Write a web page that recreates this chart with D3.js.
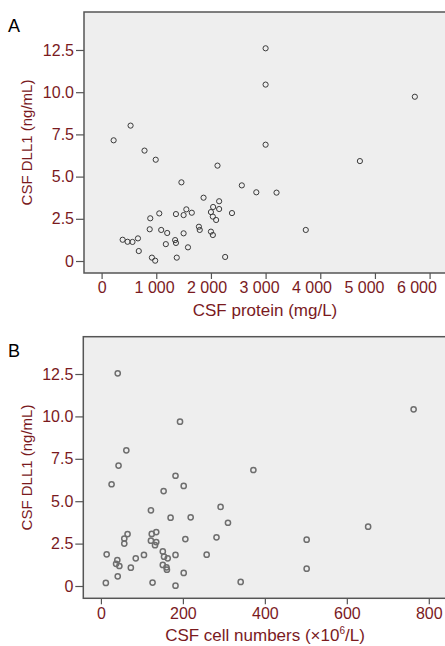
<!DOCTYPE html>
<html>
<head>
<meta charset="utf-8">
<script src="https://cdn.jsdelivr.net/npm/d3@7"></script>
<style>
  body { margin: 0; background: #fff; }
  svg { display: block; font-family: "Liberation Sans", Arial, sans-serif; }
</style>
</head>
<body>
<svg id="chart" width="445" height="646"></svg>
<script>
// Panel A: CSF protein vs CSF DLL1
const proteinA = [3000, 3000, 5730, 220, 530, 785, 3000, 990, 4725, 2120, 1460, 2565, 2830, 3200, 1865, 2150, 2040, 2150, 1550, 2000,
    1055, 1360, 1650, 2385, 1500, 2035, 2095, 890, 1780, 1795, 880, 1090, 1200, 1500, 2000, 2035, 3735, 385, 475, 565,
    665, 1345, 1360, 1175, 1580, 680, 920, 980, 1375, 2260];
const dll1A = [12.6, 10.45, 9.73, 7.15, 8.02, 6.54, 6.89, 6.0, 5.92, 5.65, 4.66, 4.48, 4.07, 4.05, 3.75, 3.54, 3.2, 3.08, 3.06, 2.9,
    2.82, 2.78, 2.86, 2.84, 2.72, 2.63, 2.43, 2.53, 2.03, 1.84, 1.88, 1.84, 1.66, 1.64, 1.74, 1.54, 1.84, 1.26, 1.14, 1.13,
    1.34, 1.24, 1.07, 1.0, 0.81, 0.59, 0.2, 0.02, 0.2, 0.24];

// Panel B: CSF cell numbers vs CSF DLL1
const cellsB = [41, 763, 193, 62, 43, 182, 372, 26, 202, 153, 292, 122, 170, 219, 310, 652, 65, 57, 57, 124,
    135, 122, 135, 132, 206, 282, 502, 502, 14, 105, 151, 154, 163, 182, 258, 85, 40, 37, 45, 73,
    151, 160, 161, 41, 202, 12, 126, 182, 341];
const dll1B = [12.54, 10.42, 9.69, 8.0, 7.1, 6.5, 6.84, 6.0, 5.9, 5.6, 4.66, 4.46, 4.03, 4.05, 3.73, 3.5, 3.06, 2.8, 2.5, 3.07,
    3.18, 2.67, 2.59, 2.41, 2.77, 2.87, 2.73, 1.02, 1.87, 1.83, 2.04, 1.73, 1.63, 1.83, 1.85, 1.63, 1.53, 1.31, 1.18, 1.08,
    1.24, 1.1, 0.96, 0.57, 0.77, 0.18, 0.2, 0.02, 0.24];

const yTicks = [0, 2.5, 5, 7.5, 10, 12.5];
const proteinTicks = [0, 1000, 2000, 3000, 4000, 5000, 6000];
const cellTicks = [0, 200, 400, 600, 800];

const red = "#7a1a1e";
const svg = d3.select("#chart");
const spaced = d3.formatLocale({ decimal: ".", thousands: " ", grouping: [3], currency: ["", ""] }).format(",");

function panel(opts) {
    const x = d3.scaleLinear().domain(opts.xDomain).range([opts.left, opts.right]);
    const y = d3.scaleLinear().domain(opts.yDomain).range([opts.bottom, opts.top]);
    const g = svg.append("g");

    g.append("rect")
        .attr("x", opts.left).attr("y", opts.top)
        .attr("width", opts.right - opts.left).attr("height", opts.bottom - opts.top)
        .attr("fill", "#eeeeee")
        .attr("stroke", "#555").attr("stroke-width", 1.5);

    const yAxis = g.append("g")
        .attr("transform", `translate(${opts.left},0)`)
        .call(d3.axisLeft(y).tickValues(yTicks).tickSize(8).tickPadding(2)
            .tickFormat(d => d === 0 ? "0" : d3.format(".1f")(d)));
    const xAxis = g.append("g")
        .attr("transform", `translate(0,${opts.bottom})`)
        .call(d3.axisBottom(x).tickValues(opts.xTicks).tickSize(6).tickPadding(3).tickFormat(opts.xFormat));

    [yAxis, xAxis].forEach(a => {
        a.select(".domain").remove();
        a.selectAll("line").attr("stroke", "#555").attr("stroke-width", 1.2);
        a.selectAll("text").attr("fill", red).attr("font-size", 16)
            .attr("font-family", "'Liberation Sans', Arial, sans-serif");
    });
    // labels in the reference drift slightly left of their ticks
    xAxis.selectAll("text").attr("dx", d => -d * opts.labelDrift);

    g.selectAll("circle")
        .data(opts.xs.map((v, i) => [v, opts.ys[i]]))
        .enter().append("circle")
        .attr("cx", d => x(d[0]))
        .attr("cy", d => y(d[1]))
        .attr("r", 2.6)
        .attr("fill", "none")
        .attr("stroke", opts.dot)
        .attr("stroke-width", opts.dotWidth);

    // y title
    g.append("text")
        .attr("transform", `translate(27,${(opts.top + opts.bottom) / 2}) rotate(-90)`)
        .attr("text-anchor", "middle")
        .attr("dy", "0.35em")
        .attr("fill", red).attr("font-size", 15)
        .text("CSF DLL1 (ng/mL)");

    // panel letter
    g.append("text")
        .attr("x", 8).attr("y", opts.top + 20)
        .attr("font-size", 18).attr("fill", "#000")
        .text(opts.letter);

    return g;
}

const a = panel({
    letter: "A", left: 84, right: 446, top: 12, bottom: 273,
    xDomain: [-322, 6300], yDomain: [-0.71, 14.75],
    xTicks: proteinTicks, xFormat: spaced, labelDrift: 0.0022,
    xs: proteinA, ys: dll1A, dot: "#3a3a3a", dotWidth: 1
});
a.append("text")
    .attr("x", 265).attr("y", 316)
    .attr("text-anchor", "middle")
    .attr("fill", red).attr("font-size", 17)
    .text("CSF protein (mg/L)");

const b = panel({
    letter: "B", left: 83.3, right: 446, top: 336.7, bottom: 598.3,
    xDomain: [-43, 842], yDomain: [-0.725, 14.70],
    xTicks: cellTicks, xFormat: d3.format("d"), labelDrift: 0,
    xs: cellsB, ys: dll1B, dot: "#6e6e6e", dotWidth: 1.5
});
const bt = b.append("text")
    .attr("x", 265).attr("y", 641)
    .attr("text-anchor", "middle")
    .attr("fill", red).attr("font-size", 17);
bt.append("tspan").text("CSF cell numbers (\u00d710");
bt.append("tspan").attr("dy", -7).attr("font-size", 10).text("6");
bt.append("tspan").attr("dy", 7).text("/L)");
</script>
</body>
</html>
